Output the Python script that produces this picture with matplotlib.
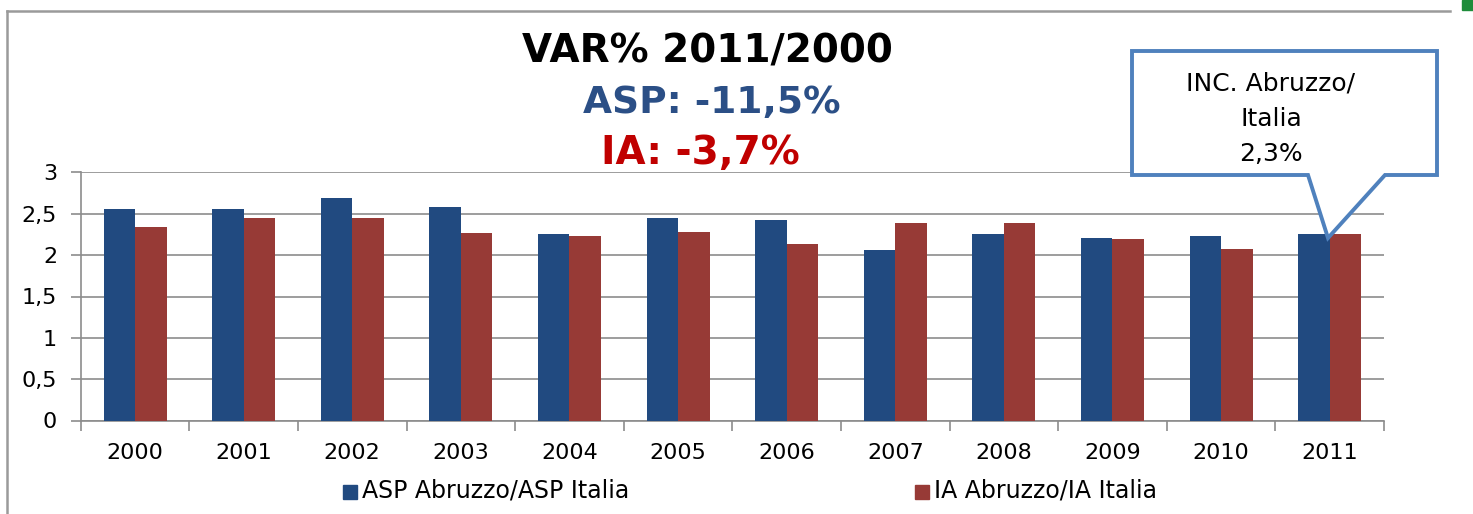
import matplotlib
matplotlib.use("Agg")
import matplotlib.pyplot as plt
from matplotlib.patches import Polygon, Rectangle
import numpy as np

years = ["2000", "2001", "2002", "2003", "2004", "2005",
         "2006", "2007", "2008", "2009", "2010", "2011"]
asp = [2.56, 2.56, 2.69, 2.58, 2.25, 2.45, 2.42, 2.06, 2.26, 2.21, 2.23, 2.26]
ia = [2.34, 2.45, 2.45, 2.27, 2.23, 2.28, 2.13, 2.39, 2.39, 2.20, 2.07, 2.26]
yticks = [0, 0.5, 1, 1.5, 2, 2.5, 3]
ytick_labels = ["0", "0,5", "1", "1,5", "2", "2,5", "3"]
legend_labels = ["ASP Abruzzo/ASP Italia", "IA Abruzzo/IA Italia"]
title_lines = ["VAR% 2011/2000", "ASP: -11,5%", "IA: -3,7%"]
callout_text = "INC. Abruzzo/\nItalia\n2,3%"

BLUE = "#214A80"
RED = "#973A36"
W, H = 1473, 514

fig = plt.figure(figsize=(W / 100, H / 100), dpi=100)
fig.patch.set_facecolor("white")

ax = fig.add_axes([80.7 / W, 1 - 420.5 / H, (1384 - 80.7) / W, (420.5 - 172.5) / H])
x = np.arange(len(years))
bw = 0.29
ax.bar(x - bw / 2, asp, width=bw, color=BLUE, zorder=3, label=legend_labels[0])
ax.bar(x + bw / 2, ia, width=bw, color=RED, zorder=3, label=legend_labels[1])

ax.set_xlim(-0.5, len(years) - 0.5)
ax.set_ylim(0, 3)
ax.set_yticks(yticks)
ax.set_yticklabels(ytick_labels, fontsize=16)
ax.yaxis.grid(True, color="#8c8c8c", linewidth=1.2, zorder=0)
ax.set_axisbelow(True)
ax.set_xticks(x)
ax.set_xticklabels(years, fontsize=16)
ax.set_xticks(np.arange(-0.5, len(years), 1), minor=True)
ax.tick_params(axis="x", which="major", length=0, pad=16)
ax.tick_params(axis="x", which="minor", length=7, color="#8c8c8c", width=1.2)
ax.tick_params(axis="y", length=7, color="#8c8c8c", width=1.2, pad=10)
for s in ["top", "right"]:
    ax.spines[s].set_visible(False)
for s in ["left", "bottom"]:
    ax.spines[s].set_color("#8c8c8c")
    ax.spines[s].set_linewidth(1.2)

# legend
fig.patches.append(Rectangle((343 / W, 1 - 499 / H), 14 / W, 14 / H,
                             transform=fig.transFigure, color=BLUE))
fig.text(362 / W, 1 - 491 / H, legend_labels[0], fontsize=17,
         va="center", ha="left")
fig.patches.append(Rectangle((915 / W, 1 - 499 / H), 14 / W, 14 / H,
                             transform=fig.transFigure, color=RED))
fig.text(934 / W, 1 - 491 / H, legend_labels[1], fontsize=17,
         va="center", ha="left")

# titles
fig.text(707 / W, 1 - 52 / H, title_lines[0], fontsize=28, fontweight="bold",
         color="black", ha="center", va="center")
fig.text(712 / W, 1 - 103 / H, title_lines[1], fontsize=27, fontweight="bold",
         color="#2B4F86", ha="center", va="center")
fig.text(700 / W, 1 - 153 / H, title_lines[2], fontsize=28, fontweight="bold",
         color="#C00000", ha="center", va="center")

# callout
pts = [(1132, 51), (1437, 51), (1437, 175), (1385, 175), (1328, 238),
       (1308, 175), (1132, 175)]
poly = Polygon([(px / W, 1 - py / H) for px, py in pts], closed=True,
               transform=fig.transFigure, facecolor="white",
               edgecolor="#4F81BD", linewidth=2.8, zorder=10)
fig.patches.append(poly)
fig.text(1271 / W, 1 - 119 / H, callout_text, fontsize=18, ha="center",
         va="center", linespacing=1.6, zorder=11)

# outer frame of the screenshot
fig.add_artist(plt.Line2D([7 / W, 1450 / W], [1 - 11 / H, 1 - 11 / H],
                          transform=fig.transFigure, color="#9a9a9a", lw=1.8))
fig.add_artist(plt.Line2D([7 / W, 7 / W], [0, 1 - 11 / H],
                          transform=fig.transFigure, color="#9a9a9a", lw=1.8))
fig.patches.append(Rectangle((1462 / W, 1 - 10 / H), 11 / W, 10 / H,
                             transform=fig.transFigure, color="#1E8C3A"))

fig.savefig("out.png", dpi=100)
